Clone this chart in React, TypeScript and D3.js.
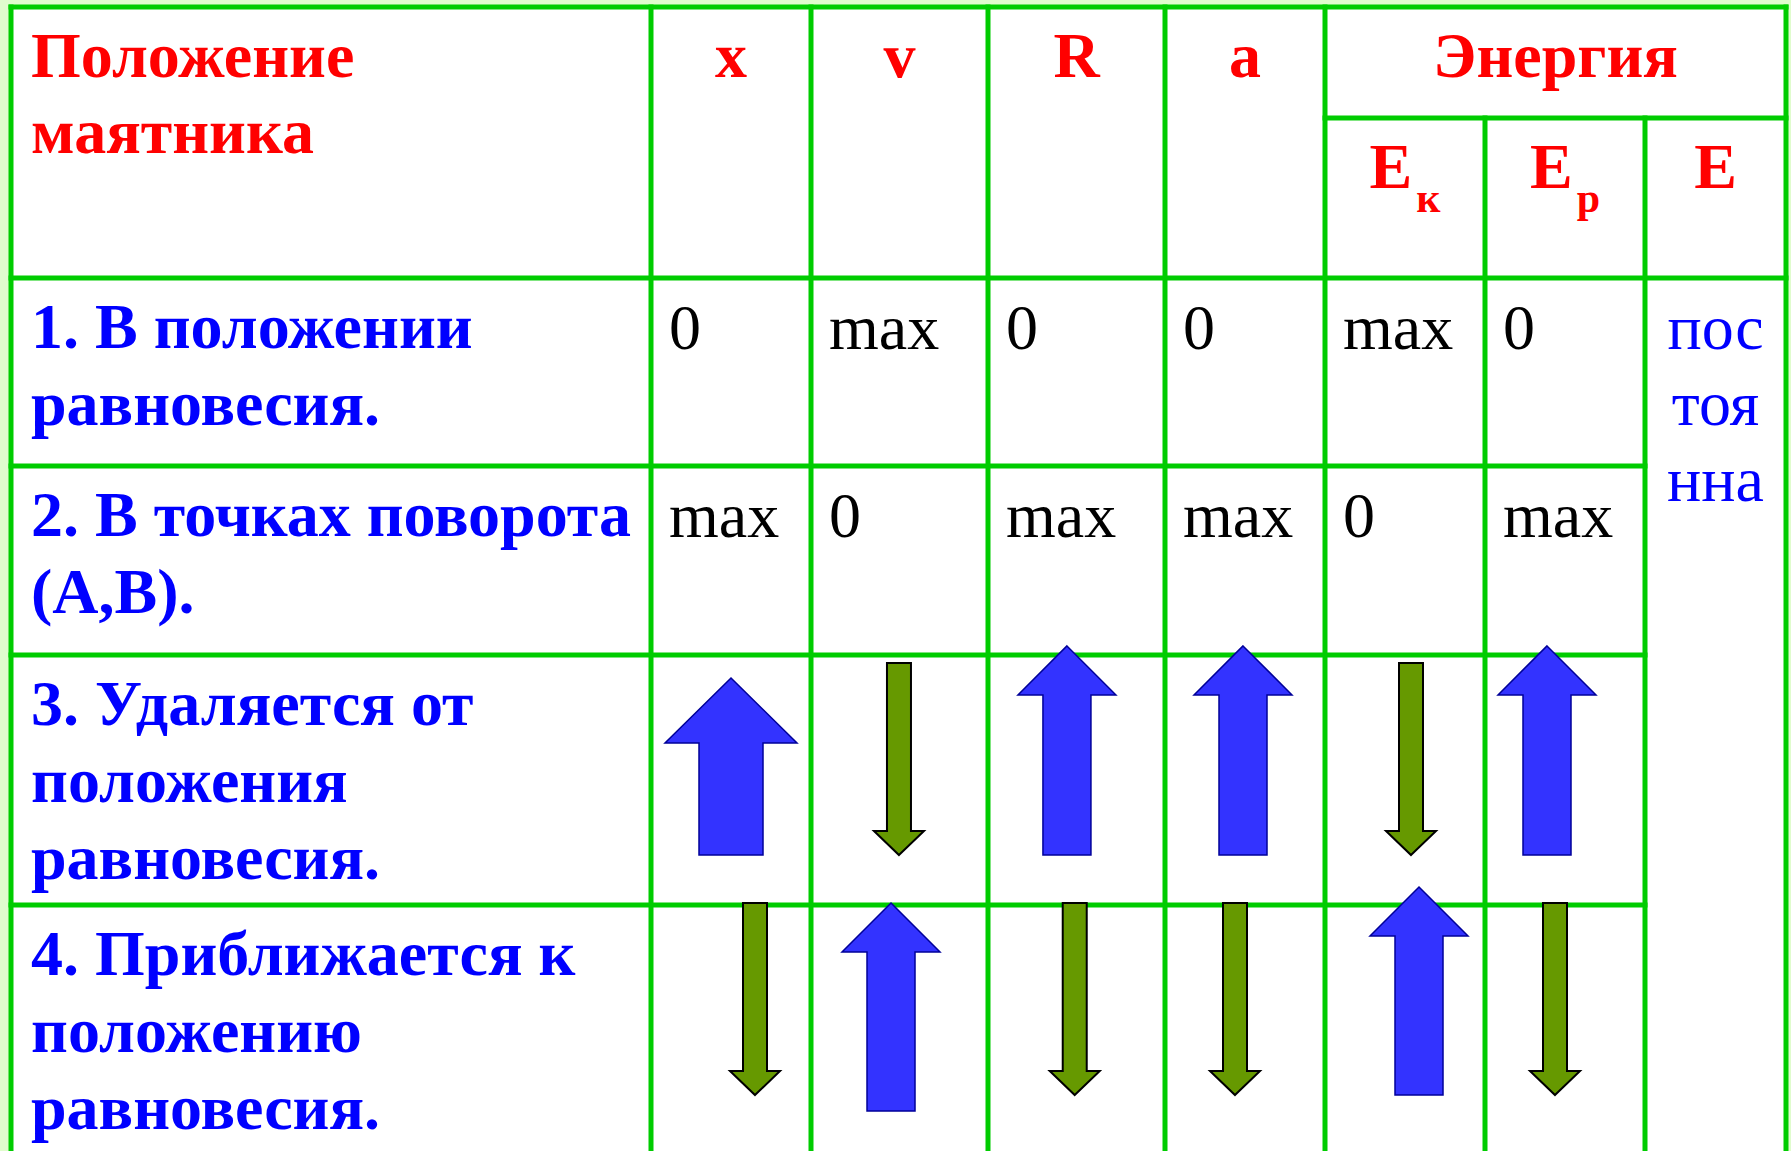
import { useEffect, useRef } from 'react'
import * as d3 from 'd3'

// Table content
const headerLabel = ['Положение', 'маятника']
const quantities = ['x', 'v', 'R', 'a']
const energyTitle = 'Энергия'
const energyParts = [
  { main: 'E', sub: 'к' },
  { main: 'E', sub: 'р' },
  { main: 'E', sub: '' },
]

const rowLabels = [
  ['1. В положении', 'равновесия.'],
  ['2. В точках поворота', '(A,B).'],
  ['3. Удаляется от', 'положения', 'равновесия.'],
  ['4. Приближается к', 'положению', 'равновесия.'],
]

// values for x, v, R, a, Ek, Ep
const row1Values = ['0', 'max', '0', '0', 'max', '0']
const row2Values = ['max', '0', 'max', 'max', '0', 'max']
const totalEnergy = ['пос', 'тоя', 'нна']

// trend arrows for rows 3 and 4 (x, v, R, a, Ek, Ep)
const row3Trend = ['up', 'down', 'up', 'up', 'down', 'up']
const row4Trend = ['down', 'up', 'down', 'down', 'up', 'down']
// arrow placement: x as fraction of the cell, tip/tail in row units
const row3ArrowX = [0.5, 0.497, 0.446, 0.4875, 0.5375, 0.3875]
const row3Tip = [3.092, 3.8, 2.952, 2.952, 3.8, 2.952]
const row3Tail = [3.8, 3.032, 3.8, 3.8, 3.032, 3.8]
const row4ArrowX = [0.65, 0.452, 0.49, 0.4375, 0.5875, 0.4375]
const row4Tip = [4.717, 3.992, 4.717, 4.717, 3.928, 4.717]
const row4Tail = [3.992, 4.777, 3.992, 3.992, 4.717, 3.992]

export default function App() {
  const svgRef = useRef(null)

  useEffect(() => {
    if (!svgRef.current) return
    d3.select(svgRef.current).selectAll('*').remove()

    const width = 1791
    const height = 1151
    const left = 11
    const top = 7

    const colWidths = [640, 160, 177, 177, 160, 160, 160, 141]
    const colEdges = [left, ...Array.from(d3.cumsum(colWidths), d => left + d)]
    const rowHeights = [271, 188, 189, 250, 265]
    const rowEdges = [top, ...Array.from(d3.cumsum(rowHeights), d => top + d)]
    const energySplit = 118

    const y = d3.scaleLinear().domain(d3.range(rowEdges.length)).range(rowEdges)
    const cellX = (c: number) => d3.scaleLinear().domain([0, 1]).range([colEdges[c], colEdges[c + 1]])
    const right = colEdges[colEdges.length - 1]

    const lineColor = '#00cc00'
    const serif = '"Liberation Serif", "Times New Roman", serif'
    const fontSize = 64
    const lineGap = 77
    const firstBase = 70
    const pad = 19

    const svg = d3.select(svgRef.current).attr('width', width).attr('height', height)

    svg.append('rect').attr('width', width).attr('height', height).attr('fill', '#e0fccd')
    svg.append('rect')
      .attr('x', left).attr('y', top)
      .attr('width', right - left).attr('height', height - top + 50)
      .attr('fill', '#ffffff')

    // grid lines
    const grid = svg.append('g').attr('stroke', lineColor).attr('stroke-width', 5).attr('stroke-linecap', 'square')
    const hLines = [
      [left, right, top],
      [colEdges[5], right, energySplit],
      [left, right, y(1)],
      [left, colEdges[7], y(2)],
      [left, colEdges[7], y(3)],
      [left, colEdges[7], y(4)],
    ]
    hLines.forEach(([x1, x2, yy]) => {
      grid.append('line').attr('x1', x1).attr('x2', x2).attr('y1', yy).attr('y2', yy)
    })
    colEdges.forEach((cx, i) => {
      const y1 = i === 6 || i === 7 ? energySplit : top
      grid.append('line').attr('x1', cx).attr('x2', cx).attr('y1', y1).attr('y2', height + 20)
    })

    // header
    const header = svg.append('g')
      .attr('font-family', serif).attr('font-weight', 'bold')
      .attr('font-size', fontSize).attr('fill', '#ff0000')
    headerLabel.forEach((t, i) => {
      header.append('text').attr('x', left + pad + 1).attr('y', top + firstBase + i * (lineGap - 1)).text(t)
    })
    quantities.forEach((q, i) => {
      header.append('text')
        .attr('x', cellX(i + 1)(0.5)).attr('y', top + firstBase)
        .attr('text-anchor', 'middle').text(q)
    })
    header.append('text')
      .attr('x', (colEdges[5] + right) / 2).attr('y', top + firstBase)
      .attr('text-anchor', 'middle').text(energyTitle)
    energyParts.forEach((p, i) => {
      const t = header.append('text')
        .attr('x', cellX(i + 5)(0.5)).attr('y', energySplit + firstBase)
        .attr('text-anchor', 'middle')
      t.append('tspan').text(p.main)
      if (p.sub) t.append('tspan').attr('font-size', 42).attr('dx', 4).attr('dy', 24).text(p.sub)
    })

    // row labels
    const labels = svg.append('g')
      .attr('font-family', serif).attr('font-weight', 'bold')
      .attr('font-size', fontSize).attr('fill', '#0000ff')
    rowLabels.forEach((lines, r) => {
      lines.forEach((t, i) => {
        labels.append('text')
          .attr('x', left + pad + 1)
          .attr('y', y(r + 1) + firstBase + i * lineGap)
          .text(t)
      })
    })

    // values
    const values = svg.append('g').attr('font-family', serif).attr('font-size', fontSize).attr('fill', '#000000')
    ;[row1Values, row2Values].forEach((vals, r) => {
      vals.forEach((v, c) => {
        values.append('text')
          .attr('x', colEdges[c + 1] + pad - 1)
          .attr('y', y(r + 1) + firstBase + 1)
          .text(v)
      })
    })
    totalEnergy.forEach((t, i) => {
      values.append('text')
        .attr('x', cellX(7)(0.5)).attr('y', y(1) + firstBase + 1 + i * (lineGap - 1))
        .attr('text-anchor', 'middle').attr('fill', '#0000ff').text(t)
    })

    // arrows
    const shapes = {
      big: { head: 65, half: 66, shaft: 32 },
      wide: { head: 49, half: 49, shaft: 24 },
      thin: { head: 24, half: 25, shaft: 12 },
    }
    const line = d3.line()
    const arrowPath = (cx: number, yTip: number, yTail: number, s: { head: number; half: number; shaft: number }) => {
      const dir = yTail > yTip ? 1 : -1
      const yb = yTip + dir * s.head
      return line([
        [cx, yTip], [cx + s.half, yb], [cx + s.shaft, yb], [cx + s.shaft, yTail],
        [cx - s.shaft, yTail], [cx - s.shaft, yb], [cx - s.half, yb],
      ]) + 'Z'
    }

    const arrows = svg.append('g')
    const drawRow = (trend: string[], ax: number[], tips: number[], tails: number[], row: number) => {
      trend.forEach((d, c) => {
        const up = d === 'up'
        const shape = up ? (row === 3 && c === 0 ? shapes.big : shapes.wide) : shapes.thin
        arrows.append('path')
          .attr('d', arrowPath(cellX(c + 1)(ax[c]), y(tips[c]), y(tails[c]), shape))
          .attr('fill', up ? '#3333ff' : '#669900')
          .attr('stroke', up ? '#000099' : '#000000')
          .attr('stroke-width', up ? 1.5 : 2)
          .attr('stroke-linejoin', 'miter')
      })
    }
    drawRow(row3Trend, row3ArrowX, row3Tip, row3Tail, 3)
    drawRow(row4Trend, row4ArrowX, row4Tip, row4Tail, 4)
  }, [])

  return (
    <div style={{ position: 'absolute', left: 0, top: 0 }}>
      <svg ref={svgRef} style={{ display: 'block' }}></svg>
    </div>
  )
}
